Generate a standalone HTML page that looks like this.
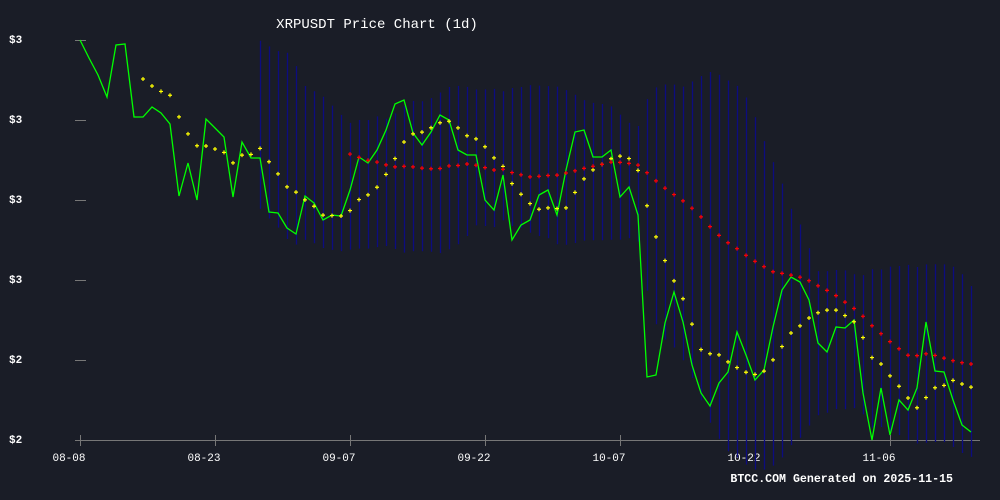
<!DOCTYPE html>
<html><head><meta charset="utf-8"><style>
html,body{margin:0;padding:0;background:#1a1d27;}
svg{display:block;font-family:"Liberation Mono","DejaVu Sans Mono",monospace;}
</style></head><body>
<svg id="c" width="1000" height="500" xmlns="http://www.w3.org/2000/svg">
<rect width="1000" height="500" fill="#1a1d27"/>
<text x="377" y="28" fill="#fff" font-size="14" text-anchor="middle">XRPUSDT Price Chart (1d)</text>
<g fill="#fff" font-size="11" font-weight="bold">
<text x="9" y="43">$3</text><text x="9" y="123">$3</text><text x="9" y="203">$3</text>
<text x="9" y="283">$3</text><text x="9" y="363">$2</text><text x="9" y="443">$2</text>
</g>
<g stroke="#777" stroke-width="1">
<line x1="75" y1="440.5" x2="980" y2="440.5"/>
<line x1="75" y1="40.5" x2="86" y2="40.5"/><line x1="75" y1="120.5" x2="86" y2="120.5"/>
<line x1="75" y1="200.5" x2="86" y2="200.5"/><line x1="75" y1="280.5" x2="86" y2="280.5"/>
<line x1="75" y1="360.5" x2="86" y2="360.5"/>
</g>
<g id="xt"></g>
<g id="bb" stroke="#0c0c80" stroke-width="1.3"></g>
<polyline id="pl" fill="none" stroke="#00ff00" stroke-width="1.3"/>
<g id="ma" stroke-width="1.2"></g>
<text x="953" y="482" fill="#fff" font-size="11.6" font-weight="bold" text-anchor="end">BTCC.COM Generated on 2025-11-15</text>
</svg>
<script>
var y=[40,58,75,97,45,44,117,117,107,113,124,196,163,200,119,128,137,197,142,158,158,212,213,228,234,196,203,220,215,216,190,157,163,150,130,104,100,133,145,132,115,120,150,155,155,200,210,175,240,225,220,195,190,215,170,132,130,157,157,150,197,187,215,377,375,323,292,322,365,393,406,383,372,332,355,380,370,327,290,277,282,300,343,352,327,328,320,393,440,388,435,400,410,388,322,371,372,400,425,432];
var X=function(i){return 80+i*9;};
var ns="http://www.w3.org/2000/svg";
document.getElementById('pl').setAttribute('points',y.map(function(v,i){return X(i)+','+v}).join(' '));
function add(g,tag,a,txt){var e=document.createElementNS(ns,tag);for(var k in a)e.setAttribute(k,a[k]);if(txt)e.textContent=txt;document.getElementById(g).appendChild(e);}
var labs=['08-08','08-23','09-07','09-22','10-07','10-22','11-06'];
labs.forEach(function(l,j){var x=80+j*135;add('xt','line',{x1:x+.5,y1:435,x2:x+.5,y2:446,stroke:'#777'});add('xt','text',{x:x-11,y:461,fill:'#fff','font-size':11,'text-anchor':'middle'},l);});
function avg(a,b){var s=0;for(var k=a;k<=b;k++)s+=y[k];return s/(b-a+1);}
for(var i=20;i<y.length;i++){var m=avg(i-19,i),s=0;for(var k=i-19;k<=i;k++)s+=(y[k]-m)*(y[k]-m);s=Math.sqrt(s/20);add('bb','line',{x1:X(i)+.5,x2:X(i)+.5,y1:m-1.85*s,y2:m+1.85*s});}
function cross(x,v,c){add('ma','path',{d:'M'+(x-2)+' '+v+'h4M'+x+' '+(v-2)+'v4',stroke:c});}
for(var i=7;i<y.length;i++)cross(X(i),avg(i-6,i),'#ffff00');
for(var i=30;i<y.length;i++)cross(X(i),avg(i-29,i),'#ff0000');
</script>
</body></html>
